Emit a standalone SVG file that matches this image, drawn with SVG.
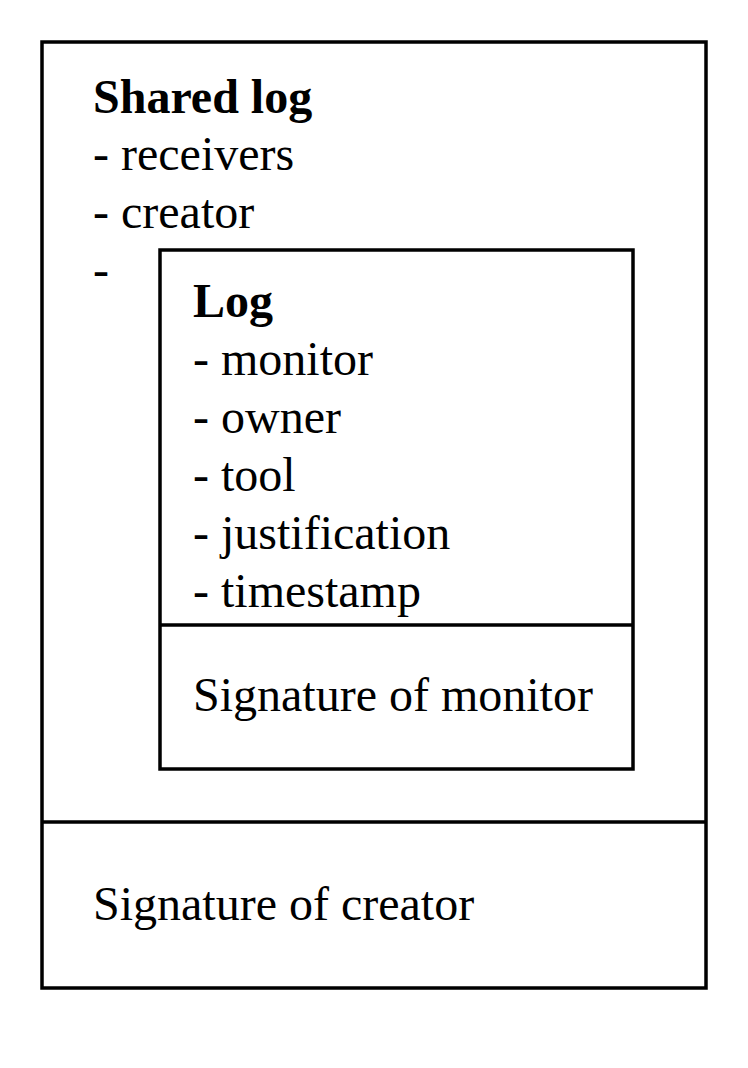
<svg xmlns="http://www.w3.org/2000/svg" width="748" height="1068" viewBox="0 0 748 1068">
<style>
.box{fill:none;stroke:#000;stroke-width:3.5}
.t{font-family:"Liberation Serif","Times New Roman",serif;font-size:48px;fill:#000}
.b{font-weight:bold}
</style>
<rect width="748" height="1068" fill="#fff"/>
<g id="shared-log">
<rect class="box" x="42" y="42" width="664" height="946"/>
<line class="box" x1="42" y1="822" x2="706" y2="822"/>
<text class="t b" x="93" y="113">Shared log</text>
<text class="t" x="93" y="170">- receivers</text>
<text class="t" x="93" y="228">- creator</text>
<text class="t" x="93" y="286">-</text>
<text class="t" x="93" y="920">Signature of creator</text>
</g>
<g id="log">
<rect class="box" x="160" y="250" width="473" height="519"/>
<line class="box" x1="160" y1="625" x2="633" y2="625"/>
<text class="t b" x="193" y="317">Log</text>
<text class="t" x="193" y="375">- monitor</text>
<text class="t" x="193" y="433">- owner</text>
<text class="t" x="193" y="491">- tool</text>
<text class="t" x="193" y="549">- justification</text>
<text class="t" x="193" y="607">- timestamp</text>
<text class="t" x="193" y="711">Signature of monitor</text>
</g>
<g id="connectors"></g>
</svg>
